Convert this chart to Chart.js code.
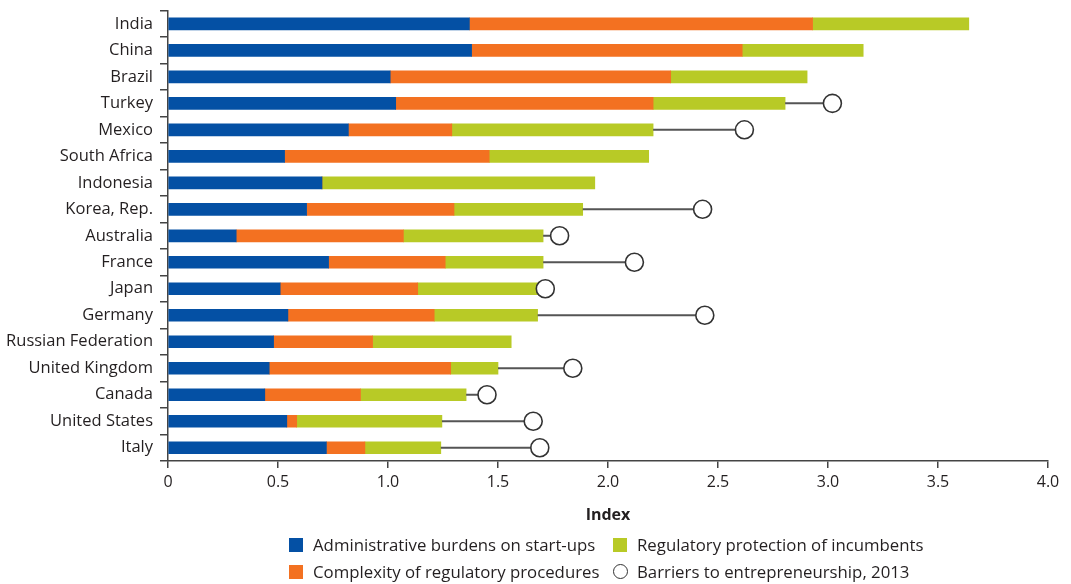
<!DOCTYPE html>
<html>
<head>
<meta charset="utf-8">
<script src="https://cdn.jsdelivr.net/npm/chart.js@4.4.1/dist/chart.umd.min.js"></script>
<style>
  html, body { margin: 0; padding: 0; background: #fff; }
  #wrap { position: relative; width: 1071px; height: 584px; font-family: "Open Sans", sans-serif; color: #231f20; }
  canvas { position: absolute; left: 0; top: 0; }
  .lg { position: absolute; font-size: 16.8px; line-height: 20px; white-space: nowrap; }
  .sw { position: absolute; width: 14px; height: 14px; }
  .circ { position: absolute; width: 13px; height: 13px; border: 1.6px solid #333; border-radius: 50%; background: #fff; }
</style>
</head>
<body>
<div id="wrap">
  <canvas id="c" width="1071" height="584"></canvas>
  <div class="sw" style="left:289px;top:538px;background:#0450A4"></div>
  <div class="lg" style="left:313px;top:535px">Administrative burdens on start-ups</div>
  <div class="sw" style="left:613px;top:538px;background:#B8CA26"></div>
  <div class="lg" style="left:637px;top:535px">Regulatory protection of incumbents</div>
  <div class="sw" style="left:289px;top:565px;background:#F37121"></div>
  <div class="lg" style="left:313px;top:562px">Complexity of regulatory procedures</div>
  <div class="circ" style="left:613px;top:564px"></div>
  <div class="lg" style="left:637px;top:562px">Barriers to entrepreneurship, 2013</div>
</div>
<script>
const categories = ['India','China','Brazil','Turkey','Mexico','South Africa','Indonesia','Korea, Rep.','Australia','France','Japan','Germany','Russian Federation','United Kingdom','Canada','United States','Italy'];
const adminBurdens = [1.37,1.38,1.01,1.035,0.82,0.53,0.70,0.63,0.31,0.73,0.51,0.545,0.48,0.46,0.44,0.54,0.72];
const regComplexity = [1.56,1.23,1.275,1.17,0.47,0.93,0,0.67,0.76,0.53,0.625,0.665,0.45,0.825,0.435,0.045,0.175];
const regProtection = [0.71,0.55,0.62,0.60,0.915,0.725,1.24,0.585,0.635,0.445,0.555,0.47,0.63,0.215,0.48,0.66,0.345];
const barriers2013 = [null,null,null,3.02,2.62,null,null,2.43,1.78,2.12,1.715,2.44,null,1.84,1.45,1.66,1.69];
const xTicks = [0,0.5,1.0,1.5,2.0,2.5,3.0,3.5,4.0];

const FONT = '"Open Sans", sans-serif';
const TXT = '#231f20';
const AXIS = '#444';

const totals = categories.map((c,i) => adminBurdens[i] + regComplexity[i] + regProtection[i]);
const connectorData = [];
const circleData = [];
categories.forEach((c,i) => {
  if (barriers2013[i] !== null) {
    connectorData.push({x: totals[i], y: c}, {x: barriers2013[i], y: c}, {x: null, y: c});
    circleData.push({x: barriers2013[i], y: c});
  }
});

new Chart(document.getElementById('c'), {
  type: 'bar',
  data: {
    labels: categories,
    datasets: [
      {label: 'Administrative burdens on start-ups', data: adminBurdens, backgroundColor: '#0450A4', stack: 'bars', barThickness: 12, order: 3},
      {label: 'Complexity of regulatory procedures', data: regComplexity, backgroundColor: '#F37121', stack: 'bars', barThickness: 12, order: 3},
      {label: 'Regulatory protection of incumbents', data: regProtection, backgroundColor: '#B8CA26', stack: 'bars', barThickness: 12, order: 3},
      {type: 'line', label: 'connector', indexAxis: 'y', stack: 'conn', data: connectorData, borderColor: '#555', borderWidth: 2, pointRadius: 0, spanGaps: false, fill: false, order: 2},
      {type: 'line', label: 'Barriers to entrepreneurship, 2013', indexAxis: 'y', stack: 'circ', data: circleData, showLine: false, pointRadius: 9, pointBackgroundColor: '#fff', pointBorderColor: '#333', pointBorderWidth: 1.6, order: 1}
    ]
  },
  options: {
    indexAxis: 'y',
    responsive: false,
    animation: false,
    devicePixelRatio: 1,
    events: [],
    layout: {padding: {left: 0, top: 8, right: 23, bottom: 55}},
    plugins: {legend: {display: false}, tooltip: {enabled: false}},
    scales: {
      y: {
        type: 'category',
        stacked: true,
        offset: true,
        afterFit: s => { s.width = 168; s.paddingTop = 0; s.paddingBottom = 0; },
        grid: {display: true, drawOnChartArea: false, drawTicks: true, offset: true, tickLength: 8,
               color: AXIS, lineWidth: 1.5, tickColor: AXIS, tickWidth: 1.5},
        border: {display: true, color: AXIS, width: 1.5},
        ticks: {font: {family: FONT, size: 16.5}, color: TXT, padding: 7, autoSkip: false}
      },
      x: {
        type: 'linear',
        stacked: true,
        min: 0, max: 4,
        afterBuildTicks: s => { s.ticks = xTicks.map(v => ({value: v})); },
        afterFit: s => { s.height = 68; },
        grid: {drawOnChartArea: false, tickLength: 7, color: AXIS, lineWidth: 1.5, tickColor: AXIS, tickWidth: 1.5},
        border: {color: AXIS, width: 1.5},
        ticks: {font: {family: FONT, size: 16}, color: TXT, padding: 5,
          callback: v => v === 0 ? '0' : Number(v).toFixed(1)},
        title: {display: true, text: 'Index', font: {family: FONT, size: 16, weight: 'bold'}, color: TXT, padding: {top: 6}}
      }
    }
  }
});
</script>
</body>
</html>
